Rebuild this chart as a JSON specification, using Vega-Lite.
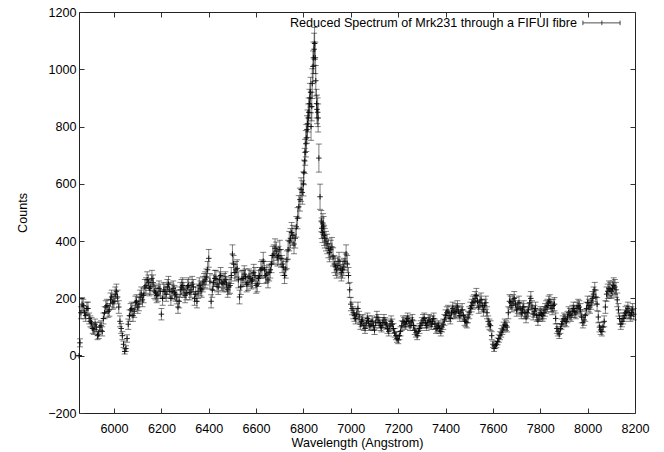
{
"$schema":"https://vega.github.io/schema/vega-lite/v6.json",
"width":556,"height":401,
"autosize":{"type":"none"},
"padding":{"left":79,"top":12,"right":29,"bottom":39},
"background":"white",
"config":{"view":{"stroke":"#222","strokeWidth":1},"font":"Liberation Sans",
"axis":{"grid":false,"domain":false,"tickSize":-5,"tickColor":"#333","labelFontSize":12.6,"labelColor":"#000","titleFontSize":12.6,"titleFontWeight":"normal","titleColor":"#000","labelFlush":false,"labelOverlap":false,"format":"d"}},
"datasets":{"spec":[
{"w":5852,"c":0,"e":0},{"w":5856,"c":45,"e":14},{"w":5860,"c":150,"e":21},{"w":5865,"c":180,"e":23},{"w":5870,"c":175,"e":22},{"w":5875,"c":150,"e":21},{"w":5880,"c":140,"e":20},{"w":5885,"c":165,"e":22},{"w":5890,"c":165,"e":22},{"w":5895,"c":130,"e":19},{"w":5900,"c":120,"e":19},{"w":5905,"c":115,"e":18},{"w":5910,"c":95,"e":17},{"w":5915,"c":90,"e":16},{"w":5920,"c":110,"e":18},{"w":5925,"c":100,"e":17},{"w":5930,"c":70,"e":14},{"w":5935,"c":75,"e":15},{"w":5940,"c":100,"e":17},{"w":5945,"c":105,"e":17},{"w":5950,"c":85,"e":16},{"w":5955,"c":130,"e":19},{"w":5960,"c":150,"e":21},{"w":5965,"c":170,"e":22},{"w":5970,"c":175,"e":22},{"w":5975,"c":155,"e":21},{"w":5980,"c":160,"e":22},{"w":5985,"c":195,"e":24},{"w":5990,"c":205,"e":24},{"w":5995,"c":185,"e":23},{"w":6000,"c":190,"e":23},{"w":6005,"c":215,"e":25},{"w":6010,"c":225,"e":25},{"w":6015,"c":205,"e":24},{"w":6020,"c":170,"e":22},{"w":6025,"c":120,"e":19},{"w":6030,"c":95,"e":17},{"w":6035,"c":70,"e":14},{"w":6040,"c":40,"e":11},{"w":6045,"c":15,"e":9},{"w":6050,"c":25,"e":10},{"w":6055,"c":60,"e":13},{"w":6060,"c":110,"e":18},{"w":6065,"c":140,"e":20},{"w":6070,"c":160,"e":22},{"w":6075,"c":165,"e":22},{"w":6080,"c":140,"e":20},{"w":6085,"c":155,"e":21},{"w":6090,"c":185,"e":23},{"w":6095,"c":190,"e":23},{"w":6100,"c":170,"e":22},{"w":6105,"c":180,"e":23},{"w":6110,"c":205,"e":24},{"w":6115,"c":215,"e":25},{"w":6120,"c":195,"e":24},{"w":6125,"c":210,"e":25},{"w":6130,"c":240,"e":26},{"w":6135,"c":245,"e":27},{"w":6140,"c":265,"e":28},{"w":6145,"c":255,"e":27},{"w":6150,"c":235,"e":26},{"w":6155,"c":240,"e":26},{"w":6160,"c":270,"e":28},{"w":6165,"c":255,"e":27},{"w":6170,"c":225,"e":25},{"w":6175,"c":220,"e":25},{"w":6180,"c":210,"e":25},{"w":6185,"c":215,"e":25},{"w":6190,"c":235,"e":26},{"w":6195,"c":225,"e":25},{"w":6200,"c":145,"e":20},{"w":6205,"c":200,"e":24},{"w":6210,"c":230,"e":26},{"w":6215,"c":225,"e":25},{"w":6220,"c":215,"e":25},{"w":6225,"c":240,"e":26},{"w":6230,"c":250,"e":27},{"w":6235,"c":230,"e":26},{"w":6240,"c":200,"e":24},{"w":6245,"c":225,"e":25},{"w":6250,"c":235,"e":26},{"w":6255,"c":220,"e":25},{"w":6260,"c":215,"e":25},{"w":6265,"c":205,"e":24},{"w":6270,"c":170,"e":22},{"w":6275,"c":190,"e":23},{"w":6280,"c":230,"e":26},{"w":6285,"c":240,"e":26},{"w":6290,"c":245,"e":27},{"w":6295,"c":230,"e":26},{"w":6300,"c":210,"e":25},{"w":6305,"c":220,"e":25},{"w":6310,"c":240,"e":26},{"w":6315,"c":245,"e":27},{"w":6320,"c":220,"e":25},{"w":6325,"c":230,"e":26},{"w":6330,"c":250,"e":27},{"w":6335,"c":240,"e":26},{"w":6340,"c":200,"e":24},{"w":6345,"c":215,"e":25},{"w":6350,"c":190,"e":23},{"w":6355,"c":225,"e":25},{"w":6360,"c":245,"e":27},{"w":6365,"c":235,"e":26},{"w":6370,"c":230,"e":26},{"w":6375,"c":250,"e":27},{"w":6380,"c":260,"e":27},{"w":6385,"c":265,"e":28},{"w":6390,"c":275,"e":28},{"w":6395,"c":300,"e":29},{"w":6400,"c":340,"e":31},{"w":6405,"c":260,"e":27},{"w":6410,"c":190,"e":23},{"w":6415,"c":230,"e":26},{"w":6420,"c":255,"e":27},{"w":6425,"c":270,"e":28},{"w":6430,"c":270,"e":28},{"w":6435,"c":250,"e":27},{"w":6440,"c":240,"e":26},{"w":6445,"c":265,"e":28},{"w":6450,"c":280,"e":28},{"w":6455,"c":255,"e":27},{"w":6460,"c":250,"e":27},{"w":6465,"c":260,"e":27},{"w":6470,"c":265,"e":28},{"w":6475,"c":250,"e":27},{"w":6480,"c":230,"e":26},{"w":6485,"c":240,"e":26},{"w":6490,"c":245,"e":27},{"w":6495,"c":280,"e":28},{"w":6500,"c":355,"e":32},{"w":6505,"c":320,"e":30},{"w":6510,"c":290,"e":29},{"w":6515,"c":300,"e":29},{"w":6520,"c":305,"e":30},{"w":6525,"c":265,"e":28},{"w":6530,"c":205,"e":24},{"w":6535,"c":240,"e":26},{"w":6540,"c":270,"e":28},{"w":6545,"c":270,"e":28},{"w":6550,"c":285,"e":29},{"w":6555,"c":275,"e":28},{"w":6560,"c":250,"e":27},{"w":6565,"c":255,"e":27},{"w":6570,"c":275,"e":28},{"w":6575,"c":270,"e":28},{"w":6580,"c":260,"e":27},{"w":6585,"c":265,"e":28},{"w":6590,"c":290,"e":29},{"w":6595,"c":280,"e":28},{"w":6600,"c":245,"e":27},{"w":6605,"c":250,"e":27},{"w":6610,"c":270,"e":28},{"w":6615,"c":280,"e":28},{"w":6620,"c":300,"e":29},{"w":6625,"c":305,"e":30},{"w":6630,"c":330,"e":31},{"w":6635,"c":300,"e":29},{"w":6640,"c":280,"e":28},{"w":6645,"c":285,"e":29},{"w":6650,"c":265,"e":28},{"w":6655,"c":290,"e":29},{"w":6660,"c":300,"e":29},{"w":6665,"c":320,"e":30},{"w":6670,"c":350,"e":32},{"w":6675,"c":355,"e":32},{"w":6680,"c":375,"e":33},{"w":6685,"c":365,"e":32},{"w":6690,"c":345,"e":32},{"w":6695,"c":350,"e":32},{"w":6700,"c":370,"e":33},{"w":6705,"c":340,"e":31},{"w":6710,"c":320,"e":30},{"w":6715,"c":310,"e":30},{"w":6720,"c":280,"e":28},{"w":6725,"c":300,"e":29},{"w":6730,"c":335,"e":31},{"w":6735,"c":370,"e":33},{"w":6740,"c":400,"e":34},{"w":6745,"c":410,"e":34},{"w":6750,"c":430,"e":35},{"w":6755,"c":420,"e":35},{"w":6760,"c":390,"e":34},{"w":6765,"c":410,"e":34},{"w":6770,"c":450,"e":36},{"w":6775,"c":480,"e":37},{"w":6780,"c":520,"e":39},{"w":6785,"c":545,"e":40},{"w":6790,"c":580,"e":41},{"w":6795,"c":570,"e":41},{"w":6800,"c":600,"e":42},{"w":6802,"c":640,"e":43},{"w":6805,"c":680,"e":44},{"w":6807,"c":710,"e":45},{"w":6810,"c":740,"e":46},{"w":6812,"c":760,"e":47},{"w":6815,"c":790,"e":48},{"w":6817,"c":810,"e":48},{"w":6820,"c":830,"e":49},{"w":6822,"c":850,"e":50},{"w":6825,"c":880,"e":50},{"w":6827,"c":900,"e":51},{"w":6830,"c":920,"e":52},{"w":6832,"c":800,"e":48},{"w":6835,"c":870,"e":50},{"w":6837,"c":950,"e":52},{"w":6840,"c":1010,"e":54},{"w":6842,"c":1040,"e":55},{"w":6845,"c":1070,"e":56},{"w":6847,"c":1090,"e":56},{"w":6850,"c":1040,"e":55},{"w":6852,"c":960,"e":53},{"w":6855,"c":880,"e":50},{"w":6857,"c":860,"e":50},{"w":6860,"c":850,"e":50},{"w":6862,"c":830,"e":49},{"w":6865,"c":690,"e":49},{"w":6870,"c":555,"e":44},{"w":6875,"c":470,"e":37},{"w":6877,"c":445,"e":36},{"w":6880,"c":430,"e":35},{"w":6882,"c":460,"e":36},{"w":6885,"c":450,"e":36},{"w":6887,"c":420,"e":35},{"w":6890,"c":410,"e":34},{"w":6895,"c":400,"e":34},{"w":6900,"c":390,"e":34},{"w":6905,"c":375,"e":33},{"w":6910,"c":360,"e":32},{"w":6915,"c":370,"e":33},{"w":6920,"c":380,"e":33},{"w":6925,"c":345,"e":32},{"w":6930,"c":320,"e":30},{"w":6935,"c":310,"e":30},{"w":6940,"c":300,"e":29},{"w":6945,"c":315,"e":30},{"w":6950,"c":330,"e":31},{"w":6955,"c":305,"e":30},{"w":6960,"c":290,"e":29},{"w":6965,"c":300,"e":29},{"w":6970,"c":310,"e":30},{"w":6975,"c":330,"e":31},{"w":6980,"c":355,"e":32},{"w":6985,"c":320,"e":30},{"w":6990,"c":280,"e":28},{"w":6995,"c":230,"e":26},{"w":7000,"c":180,"e":23},{"w":7005,"c":165,"e":22},{"w":7010,"c":150,"e":21},{"w":7015,"c":140,"e":20},{"w":7020,"c":130,"e":19},{"w":7025,"c":145,"e":20},{"w":7030,"c":165,"e":22},{"w":7035,"c":135,"e":20},{"w":7040,"c":110,"e":18},{"w":7045,"c":120,"e":19},{"w":7050,"c":125,"e":19},{"w":7055,"c":105,"e":17},{"w":7060,"c":95,"e":17},{"w":7065,"c":115,"e":18},{"w":7070,"c":130,"e":19},{"w":7075,"c":120,"e":19},{"w":7080,"c":105,"e":17},{"w":7085,"c":110,"e":18},{"w":7090,"c":120,"e":19},{"w":7095,"c":105,"e":17},{"w":7100,"c":90,"e":16},{"w":7105,"c":115,"e":18},{"w":7110,"c":135,"e":20},{"w":7115,"c":125,"e":19},{"w":7120,"c":115,"e":18},{"w":7125,"c":105,"e":17},{"w":7130,"c":100,"e":17},{"w":7135,"c":115,"e":18},{"w":7140,"c":125,"e":19},{"w":7145,"c":115,"e":18},{"w":7150,"c":110,"e":18},{"w":7155,"c":95,"e":17},{"w":7160,"c":85,"e":16},{"w":7165,"c":105,"e":17},{"w":7170,"c":120,"e":19},{"w":7175,"c":110,"e":18},{"w":7180,"c":95,"e":17},{"w":7185,"c":80,"e":15},{"w":7190,"c":70,"e":14},{"w":7195,"c":60,"e":13},{"w":7200,"c":55,"e":13},{"w":7205,"c":70,"e":14},{"w":7210,"c":85,"e":16},{"w":7215,"c":105,"e":17},{"w":7220,"c":120,"e":19},{"w":7225,"c":115,"e":18},{"w":7230,"c":110,"e":18},{"w":7235,"c":120,"e":19},{"w":7240,"c":130,"e":19},{"w":7245,"c":120,"e":19},{"w":7250,"c":105,"e":17},{"w":7255,"c":115,"e":18},{"w":7260,"c":125,"e":19},{"w":7265,"c":105,"e":17},{"w":7270,"c":90,"e":16},{"w":7275,"c":80,"e":15},{"w":7280,"c":70,"e":14},{"w":7285,"c":85,"e":16},{"w":7290,"c":95,"e":17},{"w":7295,"c":105,"e":17},{"w":7300,"c":115,"e":18},{"w":7305,"c":125,"e":19},{"w":7310,"c":130,"e":19},{"w":7315,"c":115,"e":18},{"w":7320,"c":105,"e":17},{"w":7325,"c":115,"e":18},{"w":7330,"c":125,"e":19},{"w":7335,"c":120,"e":19},{"w":7340,"c":110,"e":18},{"w":7345,"c":120,"e":19},{"w":7350,"c":130,"e":19},{"w":7355,"c":110,"e":18},{"w":7360,"c":95,"e":17},{"w":7365,"c":100,"e":17},{"w":7370,"c":105,"e":17},{"w":7375,"c":95,"e":17},{"w":7380,"c":85,"e":16},{"w":7385,"c":100,"e":17},{"w":7390,"c":110,"e":18},{"w":7395,"c":125,"e":19},{"w":7400,"c":140,"e":20},{"w":7405,"c":150,"e":21},{"w":7410,"c":155,"e":21},{"w":7415,"c":140,"e":20},{"w":7420,"c":130,"e":19},{"w":7425,"c":150,"e":21},{"w":7430,"c":165,"e":22},{"w":7435,"c":155,"e":21},{"w":7440,"c":150,"e":21},{"w":7445,"c":160,"e":22},{"w":7450,"c":170,"e":22},{"w":7455,"c":155,"e":21},{"w":7460,"c":140,"e":20},{"w":7465,"c":150,"e":21},{"w":7470,"c":160,"e":22},{"w":7475,"c":140,"e":20},{"w":7480,"c":125,"e":19},{"w":7485,"c":120,"e":19},{"w":7490,"c":115,"e":18},{"w":7495,"c":135,"e":20},{"w":7500,"c":150,"e":21},{"w":7505,"c":165,"e":22},{"w":7510,"c":175,"e":22},{"w":7515,"c":185,"e":23},{"w":7520,"c":190,"e":23},{"w":7525,"c":200,"e":24},{"w":7530,"c":210,"e":25},{"w":7535,"c":190,"e":23},{"w":7540,"c":170,"e":22},{"w":7545,"c":185,"e":23},{"w":7550,"c":195,"e":24},{"w":7555,"c":175,"e":22},{"w":7560,"c":160,"e":22},{"w":7565,"c":175,"e":22},{"w":7570,"c":185,"e":23},{"w":7575,"c":150,"e":21},{"w":7580,"c":120,"e":19},{"w":7585,"c":110,"e":18},{"w":7590,"c":105,"e":17},{"w":7595,"c":70,"e":14},{"w":7600,"c":40,"e":11},{"w":7605,"c":25,"e":10},{"w":7610,"c":35,"e":10},{"w":7615,"c":40,"e":11},{"w":7620,"c":50,"e":12},{"w":7625,"c":60,"e":13},{"w":7630,"c":70,"e":14},{"w":7635,"c":80,"e":15},{"w":7640,"c":90,"e":16},{"w":7645,"c":100,"e":17},{"w":7650,"c":110,"e":18},{"w":7655,"c":105,"e":17},{"w":7660,"c":100,"e":17},{"w":7665,"c":150,"e":21},{"w":7670,"c":190,"e":23},{"w":7675,"c":185,"e":23},{"w":7680,"c":175,"e":22},{"w":7685,"c":190,"e":23},{"w":7690,"c":200,"e":24},{"w":7695,"c":180,"e":23},{"w":7700,"c":160,"e":22},{"w":7705,"c":170,"e":22},{"w":7710,"c":185,"e":23},{"w":7715,"c":165,"e":22},{"w":7720,"c":150,"e":21},{"w":7725,"c":160,"e":22},{"w":7730,"c":170,"e":22},{"w":7735,"c":150,"e":21},{"w":7740,"c":135,"e":20},{"w":7745,"c":150,"e":21},{"w":7750,"c":160,"e":22},{"w":7755,"c":185,"e":23},{"w":7760,"c":200,"e":24},{"w":7765,"c":170,"e":22},{"w":7770,"c":145,"e":20},{"w":7775,"c":155,"e":21},{"w":7780,"c":165,"e":22},{"w":7785,"c":140,"e":20},{"w":7790,"c":125,"e":19},{"w":7795,"c":140,"e":20},{"w":7800,"c":150,"e":21},{"w":7805,"c":145,"e":20},{"w":7810,"c":140,"e":20},{"w":7815,"c":150,"e":21},{"w":7820,"c":160,"e":22},{"w":7825,"c":170,"e":22},{"w":7830,"c":175,"e":22},{"w":7835,"c":185,"e":23},{"w":7840,"c":190,"e":23},{"w":7845,"c":175,"e":22},{"w":7850,"c":165,"e":22},{"w":7855,"c":175,"e":22},{"w":7860,"c":180,"e":23},{"w":7865,"c":130,"e":19},{"w":7870,"c":95,"e":17},{"w":7875,"c":85,"e":16},{"w":7880,"c":75,"e":15},{"w":7885,"c":95,"e":17},{"w":7890,"c":110,"e":18},{"w":7895,"c":120,"e":19},{"w":7900,"c":130,"e":19},{"w":7905,"c":125,"e":19},{"w":7910,"c":120,"e":19},{"w":7915,"c":135,"e":20},{"w":7920,"c":150,"e":21},{"w":7925,"c":145,"e":20},{"w":7930,"c":140,"e":20},{"w":7935,"c":155,"e":21},{"w":7940,"c":165,"e":22},{"w":7945,"c":155,"e":21},{"w":7950,"c":150,"e":21},{"w":7955,"c":165,"e":22},{"w":7960,"c":175,"e":22},{"w":7965,"c":170,"e":22},{"w":7970,"c":160,"e":22},{"w":7975,"c":135,"e":20},{"w":7980,"c":115,"e":18},{"w":7985,"c":125,"e":19},{"w":7990,"c":140,"e":20},{"w":7995,"c":165,"e":22},{"w":8000,"c":185,"e":23},{"w":8005,"c":175,"e":22},{"w":8010,"c":170,"e":22},{"w":8015,"c":185,"e":23},{"w":8020,"c":200,"e":24},{"w":8025,"c":215,"e":25},{"w":8030,"c":230,"e":26},{"w":8035,"c":205,"e":24},{"w":8040,"c":180,"e":23},{"w":8045,"c":135,"e":20},{"w":8050,"c":100,"e":17},{"w":8055,"c":90,"e":16},{"w":8060,"c":85,"e":16},{"w":8065,"c":100,"e":17},{"w":8070,"c":120,"e":19},{"w":8075,"c":170,"e":22},{"w":8080,"c":215,"e":25},{"w":8085,"c":225,"e":25},{"w":8090,"c":235,"e":26},{"w":8095,"c":230,"e":26},{"w":8100,"c":225,"e":25},{"w":8105,"c":235,"e":26},{"w":8110,"c":245,"e":27},{"w":8115,"c":240,"e":26},{"w":8120,"c":230,"e":26},{"w":8125,"c":195,"e":24},{"w":8130,"c":160,"e":22},{"w":8135,"c":130,"e":19},{"w":8140,"c":110,"e":18},{"w":8145,"c":120,"e":19},{"w":8150,"c":130,"e":19},{"w":8155,"c":140,"e":20},{"w":8160,"c":150,"e":21},{"w":8165,"c":155,"e":21},{"w":8170,"c":165,"e":22},{"w":8175,"c":150,"e":21},{"w":8180,"c":140,"e":20},{"w":8185,"c":150,"e":21},{"w":8190,"c":160,"e":22},{"w":8195,"c":145,"e":20}
],
"legend":[{"label":"Reduced Spectrum of Mrk231 through a FIFUI fibre"}]},
"layer":[
{"data":{"name":"spec"},
"mark":{"type":"errorbar","ticks":{"size":6},"color":"#000","opacity":0.5,"thickness":1},
"encoding":{
"x":{"field":"w","type":"quantitative","scale":{"domain":[5852,8200],"nice":false,"zero":false},
"axis":{"orient":"bottom","values":[6000,6200,6400,6600,6800,7000,7200,7400,7600,7800,8000,8200],"labelPadding":14,"title":"Wavelength (Angstrom)","titlePadding":2}},
"y":{"field":"c","type":"quantitative","scale":{"domain":[-200,1200],"nice":false,"zero":false},
"axis":{"orient":"left","values":[-200,0,200,400,600,800,1000,1200],"labelPadding":8,"title":"Counts","titlePadding":18}},
"yError":{"field":"e"}}},
{"data":{"name":"spec"},
"mark":{"type":"point","shape":"M-1,0L1,0M0,-1L0,1","size":30,"strokeWidth":1,"color":"#000","opacity":0.85},
"encoding":{
"x":{"field":"w","type":"quantitative","axis":{"orient":"top","values":[6000,6200,6400,6600,6800,7000,7200,7400,7600,7800,8000,8200],"labels":false,"title":null}},
"y":{"field":"c","type":"quantitative","axis":{"orient":"right","values":[-200,0,200,400,600,800,1000,1200],"labels":false,"title":null}}}},
{"data":{"name":"legend"},
"mark":{"type":"text","align":"right","baseline":"middle","fontSize":12.6,"color":"#000"},
"encoding":{"x":{"datum":7955,"type":"quantitative","axis":null},"y":{"datum":1162,"type":"quantitative","axis":null},"text":{"field":"label"}}},
{"data":{"name":"legend"},
"mark":{"type":"rule","color":"#000","opacity":0.7,"strokeWidth":1},
"encoding":{"x":{"datum":7980,"type":"quantitative","axis":null},"x2":{"datum":8137},"y":{"datum":1162,"type":"quantitative","axis":null}}},
{"data":{"name":"legend"},
"mark":{"type":"rule","color":"#000","opacity":0.7,"strokeWidth":1},
"encoding":{"x":{"datum":7980,"type":"quantitative","axis":null},"y":{"datum":1154,"type":"quantitative","axis":null},"y2":{"datum":1170}}},
{"data":{"name":"legend"},
"mark":{"type":"rule","color":"#000","opacity":0.7,"strokeWidth":1},
"encoding":{"x":{"datum":8060,"type":"quantitative","axis":null},"y":{"datum":1154,"type":"quantitative","axis":null},"y2":{"datum":1170}}},
{"data":{"name":"legend"},
"mark":{"type":"rule","color":"#000","opacity":0.7,"strokeWidth":1},
"encoding":{"x":{"datum":8137,"type":"quantitative","axis":null},"y":{"datum":1154,"type":"quantitative","axis":null},"y2":{"datum":1170}}}
],
"resolve":{"axis":{"x":"independent","y":"independent"}}
}
